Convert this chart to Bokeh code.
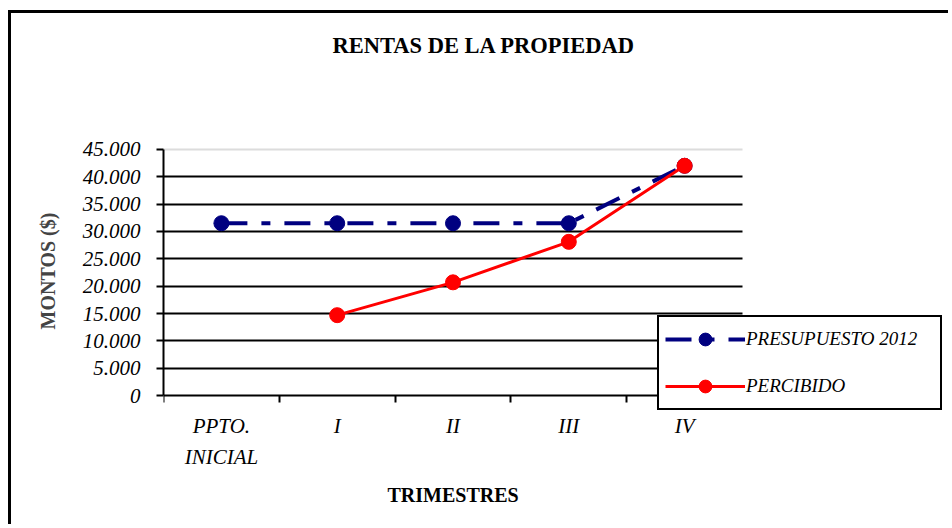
from bokeh.plotting import figure
from bokeh.models import (Range1d, LinearAxis, FixedTicker, Grid,
                          Legend, LegendItem, Title)
from bokeh.embed import file_html
from bokeh.resources import INLINE

# ---- data ----
categories = ["PPTO.\nINICIAL", "I", "II", "III", "IV"]
presupuesto = [31500, 31500, 31500, 31500, 42000]
percibido_categories = ["I", "II", "III", "IV"]
percibido = [14700, 20700, 28100, 42000]
y_ticks = [0, 5000, 10000, 15000, 20000, 25000, 30000, 35000, 40000, 45000]
y_tick_labels = ["0", "5.000", "10.000", "15.000", "20.000", "25.000",
                 "30.000", "35.000", "40.000", "45.000"]

SERIF = "Liberation Serif"
NAVY = "#000080"
RED = "#ff0000"

# ---- layout (pixels) ----
W, H = 940, 514
FRAME_L, FRAME_R = 152, 933          # frame spans to the right so the legend can overlap it
FRAME_T, FRAME_B = 115, 398
PLOT_R = 731                          # right end of the category area
Y0_PX, YMAX_PX = 382, 134             # pixel rows of 0 and 45.000

n = len(categories)
kx = (PLOT_R - FRAME_L) / n
x_end = (FRAME_R - FRAME_L) / kx
ky = (Y0_PX - YMAX_PX) / y_ticks[-1]
y_start = -(FRAME_B - Y0_PX) / ky
y_end = y_ticks[-1] + (YMAX_PX - FRAME_T) / ky

centers = [i + 0.5 for i in range(n)]
pos = dict(zip(categories, centers))
x_pres = [pos[c] for c in categories]
x_perc = [pos[c] for c in percibido_categories]

p = figure(width=W, height=H,
           x_range=Range1d(0, x_end), y_range=Range1d(y_start, y_end),
           output_backend="svg", toolbar_location=None,
           x_axis_location=None, y_axis_location="left", title=None,
           min_border_left=FRAME_L, min_border_right=W - FRAME_R,
           min_border_top=FRAME_T, min_border_bottom=H - FRAME_B,
           background_fill_color="white", border_fill_color="white",
           outline_line_color=None)
p.styles = {"margin-left": "8px", "margin-top": "10px",
            "border-left": "3px solid black", "border-top": "3px solid black"}

# title (spacer first = nearest the frame, then the visible title)
p.add_layout(Title(text=" ", text_font_size="1px", standoff=53), "above")
p.add_layout(Title(text="RENTAS DE LA PROPIEDAD", align="left", offset=169,
                   text_font=SERIF, text_font_style="bold", text_font_size="22.5px",
                   text_color="black", standoff=34), "above")

# y axis
ya = p.yaxis[0]
ya.ticker = FixedTicker(ticks=y_ticks)
ya.bounds = (y_ticks[0], y_ticks[-1])
ya.major_label_overrides = {t: l for t, l in zip(y_ticks, y_tick_labels)}
ya.major_tick_in = 0
ya.major_tick_out = 7
ya.minor_tick_out = 0
ya.minor_tick_in = 0
ya.axis_line_width = 2
ya.major_tick_line_width = 2
ya.major_label_standoff = 16
ya.major_label_text_font = SERIF
ya.major_label_text_font_style = "italic"
ya.major_label_text_font_size = "21px"
ya.major_label_text_color = "black"
ya.axis_label = "MONTOS ($)"
ya.axis_label_text_font = SERIF
ya.axis_label_text_font_style = "bold"
ya.axis_label_text_font_size = "20px"
ya.axis_label_standoff = 21

# x axis: category labels in the panel under the frame, boundary ticks fixed at y = 0
cat_axis = LinearAxis(ticker=FixedTicker(ticks=centers), bounds=(0, n),
                      major_label_overrides={c: nm for c, nm in zip(centers, categories)},
                      axis_line_color=None, major_tick_line_color=None,
                      minor_tick_line_color=None,
                      major_label_standoff=-4,
                      major_label_text_font=SERIF,
                      major_label_text_font_style="italic",
                      major_label_text_font_size="21px",
                      major_label_text_line_height=1.33,
                      major_label_text_color="black")
p.add_layout(cat_axis, "below")

# x axis title, centred under the category area
p.add_layout(Title(text="TRIMESTRES", align="left", offset=224,
                   text_font=SERIF, text_font_style="bold", text_font_size="20px",
                   text_color="black", standoff=19), "below")

bounds = list(range(n + 1))
tick_axis = LinearAxis(ticker=FixedTicker(ticks=bounds), bounds=(0, n),
                       fixed_location=0,
                       major_label_overrides={b: "" for b in bounds},
                       major_tick_in=0, major_tick_out=7, minor_tick_in=0, minor_tick_out=0,
                       axis_line_width=2, major_tick_line_width=2,
                       major_label_text_font_size="1px",
                       major_label_standoff=0)
p.add_layout(tick_axis, "below")

# grid, limited to the category area
p.xgrid.visible = False
p.ygrid.ticker = FixedTicker(ticks=y_ticks[1:-1])
p.ygrid.grid_line_color = "black"
p.ygrid.grid_line_width = 2
p.ygrid.cross_bounds = (0, n)
top_grid = Grid(dimension=1, ticker=FixedTicker(ticks=[y_ticks[-1]]),
                grid_line_color="#dcdcdc", grid_line_width=2, cross_bounds=(0, n))
p.add_layout(top_grid)

# series
r1 = p.line(x_pres, presupuesto, line_color=NAVY, line_width=4, line_dash="26 14 9 14")
r2 = p.scatter(x_pres, presupuesto, size=15, fill_color=NAVY, line_color=NAVY)
r3 = p.line(x_perc, percibido, line_color=RED, line_width=3)
r4 = p.scatter(x_perc, percibido, size=15, fill_color=RED, line_color=RED)

legend = Legend(items=[LegendItem(label="PRESUPUESTO 2012", renderers=[r1, r2]),
                       LegendItem(label="PERCIBIDO", renderers=[r3, r4])],
                location=(494, 1),
                border_line_color="black", border_line_width=2, border_line_alpha=1,
                background_fill_color="white", background_fill_alpha=1,
                padding=6, spacing=15, glyph_width=80, glyph_height=32,
                label_height=32, label_width=188, label_standoff=1, margin=0,
                label_text_font=SERIF, label_text_font_style="italic",
                label_text_font_size="19px", label_text_color="black")
p.add_layout(legend)

open("out.html", "w").write(file_html(p, INLINE))
